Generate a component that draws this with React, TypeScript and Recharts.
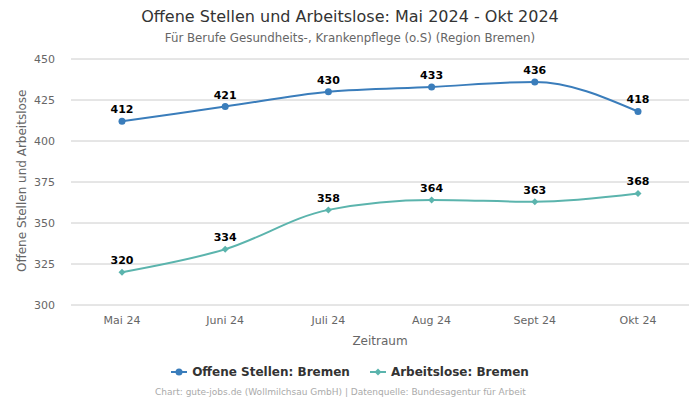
import { LineChart, Line, XAxis, YAxis, CartesianGrid, LabelList } from 'recharts';

const months = ['Mai 24', 'Juni 24', 'Juli 24', 'Aug 24', 'Sept 24', 'Okt 24'];
const offeneStellen = [412, 421, 430, 433, 436, 418];
const arbeitslose = [320, 334, 358, 364, 363, 368];
const yTicks = [300, 325, 350, 375, 400, 425, 450];

const data = months.map((m, i) => ({ month: m, offen: offeneStellen[i], arbeitslos: arbeitslose[i] }));

const BLUE = '#3a7dbb';
const TEAL = '#5bb4ad';
const FONT = '"DejaVu Sans", sans-serif';

const Diamond = (props: any) => {
  const { cx, cy } = props;
  if (cx == null || cy == null) return null;
  return <path d={`M${cx},${cy - 3.5}L${cx + 3.5},${cy}L${cx},${cy + 3.5}L${cx - 3.5},${cy}Z`} fill={TEAL} />;
};

export default function App() {
  return (
    <div style={{ position: 'absolute', left: 0, top: 0, width: 700, height: 400, background: '#fff', fontFamily: FONT }}>
      <div style={{ position: 'absolute', top: 7, width: 700, textAlign: 'center', fontSize: 16, color: '#333' }}>
        Offene Stellen und Arbeitslose: Mai 2024 - Okt 2024
      </div>
      <div style={{ position: 'absolute', top: 31, width: 700, textAlign: 'center', fontSize: 11.8, color: '#666' }}>
        Für Berufe Gesundheits-, Krankenpflege (o.S) (Region Bremen)
      </div>
      <LineChart width={700} height={400} data={data} margin={{ top: 59, right: 11, left: 0, bottom: 45 }}>
        <CartesianGrid vertical={false} stroke="#cccccc" />
        <XAxis
          dataKey="month"
          axisLine={false}
          tickLine={false}
          padding={{ left: 51, right: 51 }}
          tick={{ fontSize: 11, fill: '#666', fontFamily: FONT }}
          tickMargin={5}
          height={50}
          label={{ value: 'Zeitraum', position: 'insideBottom', offset: 10, fontSize: 12, fill: '#666', fontFamily: FONT }}
        />
        <YAxis
          domain={[300, 450]}
          ticks={yTicks}
          axisLine={false}
          tickLine={false}
          width={71}
          tick={{ fontSize: 11, fill: '#666', fontFamily: FONT }}
          tickMargin={10}
          label={{ value: 'Offene Stellen und Arbeitslose', angle: -90, position: 'insideLeft', offset: 22, dy: 90, fontSize: 12, fill: '#666', fontFamily: FONT }}
        />
        <Line
          type="monotone"
          dataKey="offen"
          stroke={BLUE}
          strokeWidth={2}
          dot={{ r: 3.5, fill: BLUE, stroke: BLUE, strokeWidth: 0 }}
          isAnimationActive={false}
        >
          <LabelList dataKey="offen" position="top" offset={8} style={{ fontSize: 11, fontWeight: 'bold', fill: '#000', fontFamily: FONT }} />
        </Line>
        <Line
          type="monotone"
          dataKey="arbeitslos"
          stroke={TEAL}
          strokeWidth={2}
          dot={<Diamond />}
          isAnimationActive={false}
        >
          <LabelList dataKey="arbeitslos" position="top" offset={8} style={{ fontSize: 11, fontWeight: 'bold', fill: '#000', fontFamily: FONT }} />
        </Line>
      </LineChart>
      <div style={{ position: 'absolute', top: 365, width: 700, display: 'flex', justifyContent: 'center', gap: 20, fontSize: 12, fontWeight: 'bold', color: '#333' }}>
        <span style={{ display: 'flex', alignItems: 'center', gap: 5 }}>
          <svg width={16} height={10}><line x1={0} y1={5} x2={16} y2={5} stroke={BLUE} strokeWidth={2} /><circle cx={8} cy={5} r={3.5} fill={BLUE} /></svg>
          Offene Stellen: Bremen
        </span>
        <span style={{ display: 'flex', alignItems: 'center', gap: 5 }}>
          <svg width={16} height={10}><line x1={0} y1={5} x2={16} y2={5} stroke={TEAL} strokeWidth={2} /><path d="M8,1.5L11.5,5L8,8.5L4.5,5Z" fill={TEAL} /></svg>
          Arbeitslose: Bremen
        </span>
      </div>
      <div style={{ position: 'absolute', top: 387, left: 155, fontSize: 9, color: '#aaa', whiteSpace: 'nowrap' }}>
        Chart: gute-jobs.de (Wollmilchsau GmbH) | Datenquelle: Bundesagentur für Arbeit
      </div>
    </div>
  );
}
